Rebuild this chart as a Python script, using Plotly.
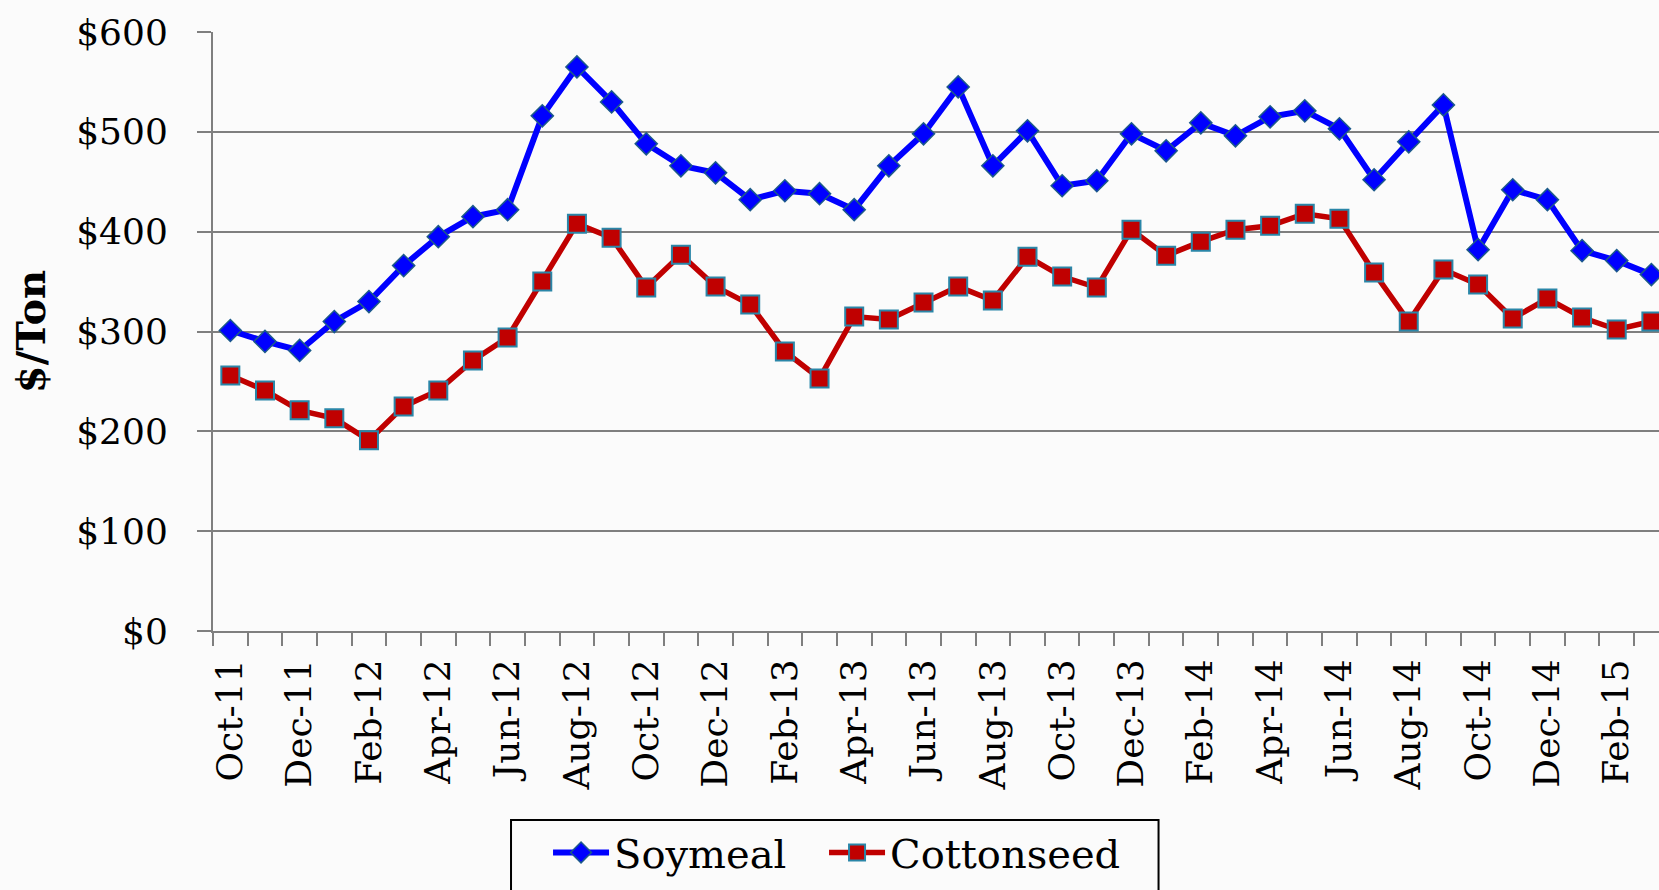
import plotly.graph_objects as go

months = ["Oct-11", "Nov-11", "Dec-11",
          "Jan-12", "Feb-12", "Mar-12", "Apr-12", "May-12", "Jun-12",
          "Jul-12", "Aug-12", "Sep-12", "Oct-12", "Nov-12", "Dec-12",
          "Jan-13", "Feb-13", "Mar-13", "Apr-13", "May-13", "Jun-13",
          "Jul-13", "Aug-13", "Sep-13", "Oct-13", "Nov-13", "Dec-13",
          "Jan-14", "Feb-14", "Mar-14", "Apr-14", "May-14", "Jun-14",
          "Jul-14", "Aug-14", "Sep-14", "Oct-14", "Nov-14", "Dec-14",
          "Jan-15", "Feb-15", "Mar-15"]

soymeal = [301, 290, 281,
           310, 330, 366, 395, 415, 422, 516, 565, 530, 488, 466, 459,
           432, 441, 438, 422, 466, 498, 545, 466, 501, 446, 451, 498,
           481, 509, 496, 515, 521, 503, 452, 490, 527, 382, 442, 432,
           381, 371, 357]

cottonseed = [256, 241, 221,
              213, 191, 225, 241, 271, 294, 350, 408, 394, 344, 377, 345,
              327, 280, 253, 315, 312, 329, 345, 331, 375, 355, 344, 402,
              376, 390, 402, 406, 418, 413, 359, 310, 362, 347, 313, 333,
              314, 302, 310]

y_ticks = [0, 100, 200, 300, 400, 500, 600]
y_tick_text = ["$" + str(v) for v in y_ticks]
x_tick_text = [m if i % 2 == 0 else "" for i, m in enumerate(months)]

FONT = "DejaVu Serif"
GRID = "#7f7f7f"

fig = go.Figure()
fig.add_trace(go.Scatter(
    x=months, y=soymeal, name="Soymeal", mode="lines+markers",
    line=dict(color="#0000FF", width=6),
    marker=dict(symbol="diamond", size=17, color="#0000FF",
                line=dict(color="#1C5A8A", width=1.5)),
    legendwidth=205,
))
fig.add_trace(go.Scatter(
    x=months, y=cottonseed, name="Cottonseed", mode="lines+markers",
    line=dict(color="#C00000", width=5.5),
    marker=dict(symbol="square", size=18, color="#C00000",
                line=dict(color="#2A86A8", width=2)),
    legendwidth=270,
))

fig.update_layout(
    width=1659, height=890,
    margin=dict(l=213, r=0, t=32, b=259, autoexpand=False),
    paper_bgcolor="#fbfbfb", plot_bgcolor="#fbfbfb",
    font=dict(family=FONT, color="black"),
    showlegend=True,
    legend=dict(
        orientation="h", x=0.2317, xanchor="left", y=-0.3155, yanchor="top",
        font=dict(family=FONT, size=40, color="black"),
        borderwidth=0, bgcolor="rgba(0,0,0,0)",
        itemwidth=56,
    ),
    shapes=[dict(type="rect", xref="paper", yref="paper",
                 x0=0.2061, x1=0.6539, y0=-0.3155, y1=-0.48,
                 line=dict(color="black", width=2), fillcolor="rgba(0,0,0,0)")],
    xaxis=dict(
        type="category", categoryorder="array", categoryarray=months,
        range=[-0.5, 41.22],
        tickmode="array", tickvals=months, ticktext=x_tick_text,
        tickson="boundaries", ticks="outside", ticklen=13, tickwidth=2,
        tickcolor=GRID, tickangle=-90, ticklabelstandoff=12,
        tickfont=dict(family=FONT, size=36, color="black"),
        showgrid=False, showline=True, linecolor=GRID, linewidth=2,
        automargin=False,
    ),
    yaxis=dict(
        range=[0, 600], tickmode="array", tickvals=y_ticks, ticktext=y_tick_text,
        ticks="outside", ticklen=14, tickwidth=2,
        tickcolor=GRID, ticklabelstandoff=22,
        tickfont=dict(family=FONT, size=36, color="black"),
        showgrid=True, gridcolor=GRID, gridwidth=2,
        showline=True, linecolor=GRID, linewidth=2, zeroline=False,
        title=dict(text="<b>$/Ton</b>", standoff=18,
                   font=dict(family=FONT, size=40, color="black")),
        automargin=False,
    ),
)

fig.write_html("out.html", config={"displayModeBar": False},
               post_script="document.body.style.margin='0';")
